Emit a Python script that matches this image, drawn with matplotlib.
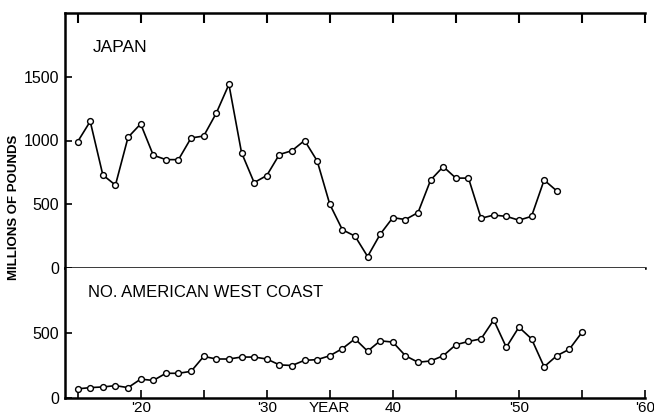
import matplotlib
matplotlib.use("Agg")
import matplotlib.pyplot as plt

plt.rcParams['font.family'] = ['Liberation Sans', 'DejaVu Sans']

# Japan catch, millions of pounds, 1915-1953
japan_years = list(range(1915, 1954))
japan_values = [990, 1150, 730, 650, 1025, 1130, 885, 850, 850, 1020,
                1035, 1215, 1440, 905, 670, 725, 890, 920, 1000, 840,
                500, 300, 250, 90, 265, 395, 380, 435, 690, 795,
                705, 705, 390, 415, 405, 375, 405, 690, 605]

# North American west coast catch, 1915-1955
nawc_years = list(range(1915, 1956))
nawc_values = [70, 80, 85, 95, 80, 145, 135, 190, 190, 205,
               320, 300, 300, 315, 315, 300, 255, 250, 290, 295,
               325, 380, 455, 360, 440, 430, 325, 275, 285, 325,
               410, 435, 455, 600, 390, 545, 455, 240, 325, 375,
               505]

tick_years = list(range(1915, 1961, 5))
tick_labels = ["", "'20", "", "'30", "YEAR", "40", "", "'50", "", "'60"]

fig = plt.figure(figsize=(6.54, 4.2), dpi=100)
W, H = 654, 420
left, right = 65, 645
ax1 = fig.add_axes([left / W, (H - 268) / H, (right - left) / W, 255 / H])
ax2 = fig.add_axes([left / W, (H - 398) / H, (right - left) / W, 130 / H])

line_kw = dict(color='black', lw=1.2, marker='o', markersize=4.2,
               markerfacecolor='white', markeredgecolor='black',
               markeredgewidth=1.0)

ax1.plot(japan_years, japan_values, **line_kw)
ax2.plot(nawc_years, nawc_values, **line_kw)

for ax in (ax1, ax2):
    ax.set_xlim(1914, 1960)
    ax.spines['right'].set_visible(False)
    for s in ax.spines.values():
        s.set_linewidth(1.8)
    ax.tick_params(axis='y', direction='in', length=5, width=1.2,
                   labelsize=11.5, pad=4)

# top panel
ax1.set_ylim(0, 2000)
ax1.set_yticks([0, 500, 1000, 1500])
ax1.xaxis.tick_top()
ax1.set_xticks(tick_years)
ax1.set_xticklabels([])
ax1.tick_params(axis='x', direction='in', length=7, width=1.5)
ax1.text(0.048, 0.865, 'JAPAN', transform=ax1.transAxes,
         fontsize=12.5, va='center', ha='left')

# bottom panel
ax2.set_ylim(0, 1000)
ax2.set_yticks([0, 500])
ax2.spines['top'].set_visible(False)
ax2.set_xticks(tick_years)
ax2.set_xticklabels(tick_labels)
ax2.tick_params(axis='x', direction='in', length=6, width=1.2,
                labelsize=11, pad=2)
ax2.text(0.04, 0.81, 'NO. AMERICAN WEST COAST', transform=ax2.transAxes,
         fontsize=12, va='center', ha='left')

fig.text(14 / W, 1 - 207 / H, 'MILLIONS OF POUNDS', rotation=90,
         ha='center', va='center', fontsize=9.5, fontweight='bold')

fig.savefig('out.png', dpi=100)
